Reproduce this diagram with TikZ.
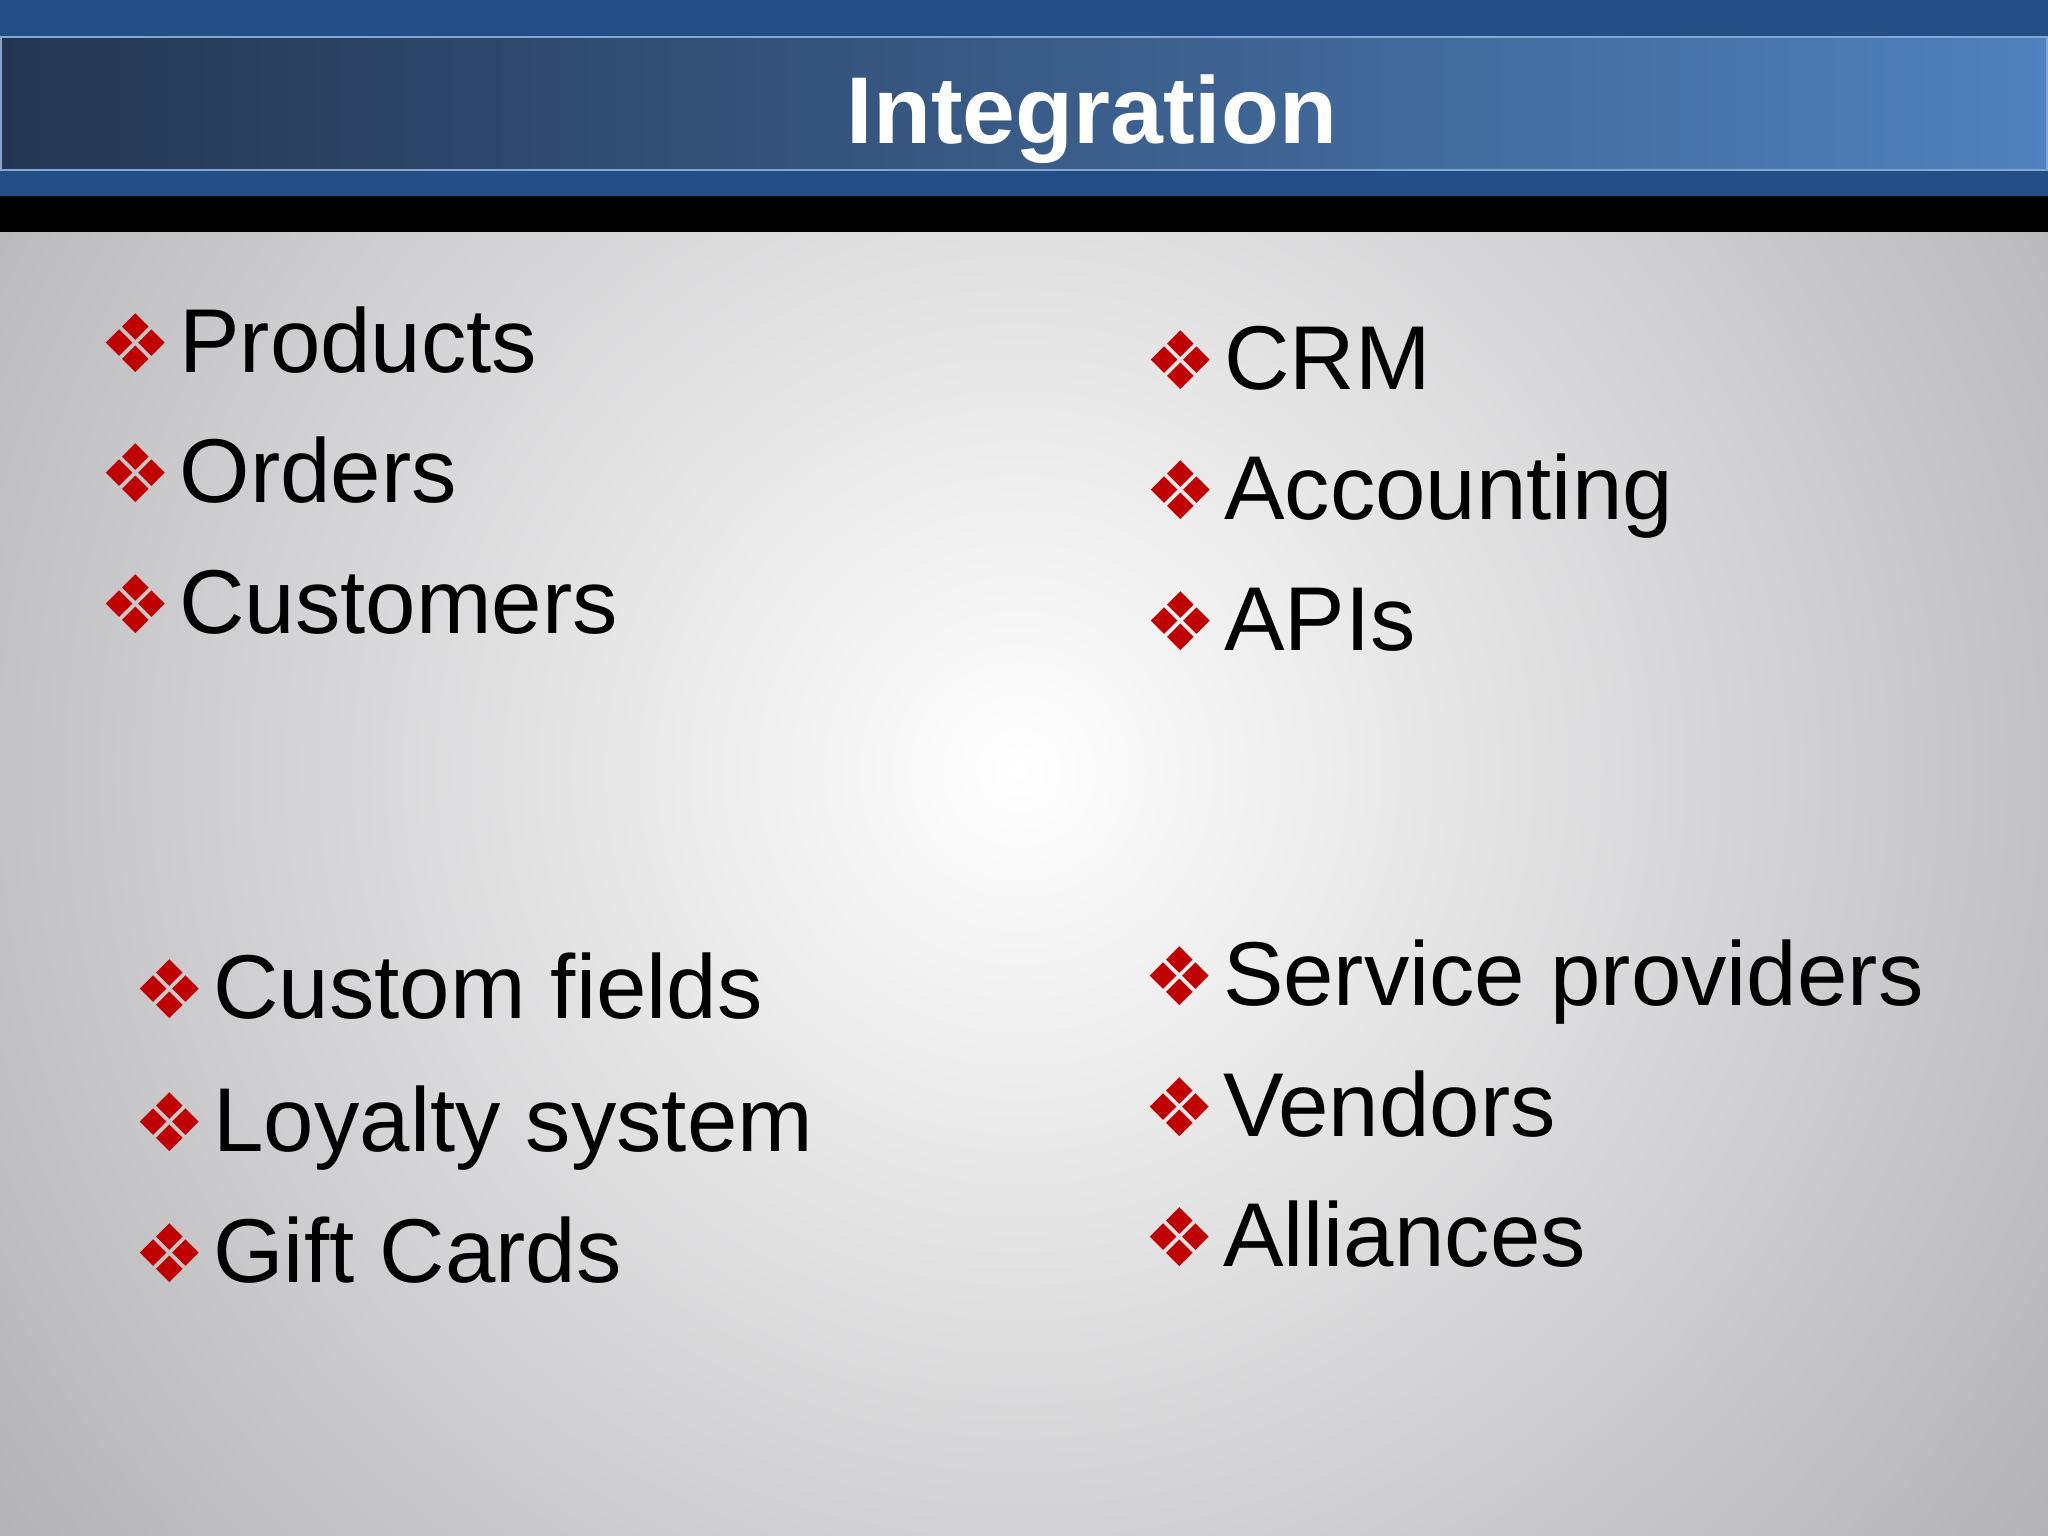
\documentclass[tikz,border=0pt]{standalone}
\usepackage{fontspec}
\setmainfont{Liberation Sans}
\newfontfamily\dejavu{DejaVu Sans}
\definecolor{bred}{HTML}{C00000}
\definecolor{bgray}{HTML}{A6A6AA}
\definecolor{topblue}{HTML}{234F86}
\definecolor{navy}{HTML}{243652}
\definecolor{lblue}{HTML}{4F81BD}
\tikzset{
  item/.style={anchor=base west, inner sep=0pt, font=\fontsize{25.8}{30}\selectfont, text=black},
}
\newcommand{\bul}{\textcolor{bred}{\dejavu\fontsize{23}{23}\selectfont ❖}\hspace{2pt}}
\begin{document}
\begin{tikzpicture}[x=0.013061cm,y=-0.013061cm]
\useasboundingbox (0,0) rectangle (1568,1176);
\begin{scope}
\clip (0,178) rectangle (1568,1176);
\shade[inner color=white, outer color=bgray] (780-1150,590-1150) rectangle (780+1150,590+1150);
\end{scope}
\fill[topblue] (0,0) rectangle (1568,150);
\shade[left color=navy, right color=lblue, middle color=navy!50!lblue] (0,28) rectangle (1568,130);
\draw[lblue!70!white, line width=0.6pt] (1,28) rectangle (1567,130);
\fill[black] (0,150) rectangle (1568,178);
\node[font=\bfseries\fontsize{27}{30}\selectfont, text=white, anchor=base] (title) at (836,110) {Integration};
\node[item] (p) at (76,285) {\bul Products};
\node[item] (o) at (76,385) {\bul Orders};
\node[item] (c) at (76,485) {\bul Customers};
\node[item] (crm) at (876,298) {\bul CRM};
\node[item] (acc) at (876,398) {\bul Accounting};
\node[item] (api) at (876,498) {\bul APIs};
\node[item] (cf) at (102,780) {\bul Custom fields};
\node[item] (ls) at (102,882) {\bul Loyalty system};
\node[item] (gc) at (102,982) {\bul Gift Cards};
\node[item] (sp) at (875,770) {\bul Service providers};
\node[item] (v) at (875,870) {\bul Vendors};
\node[item] (al) at (875,970) {\bul Alliances};
\end{tikzpicture}
\end{document}
